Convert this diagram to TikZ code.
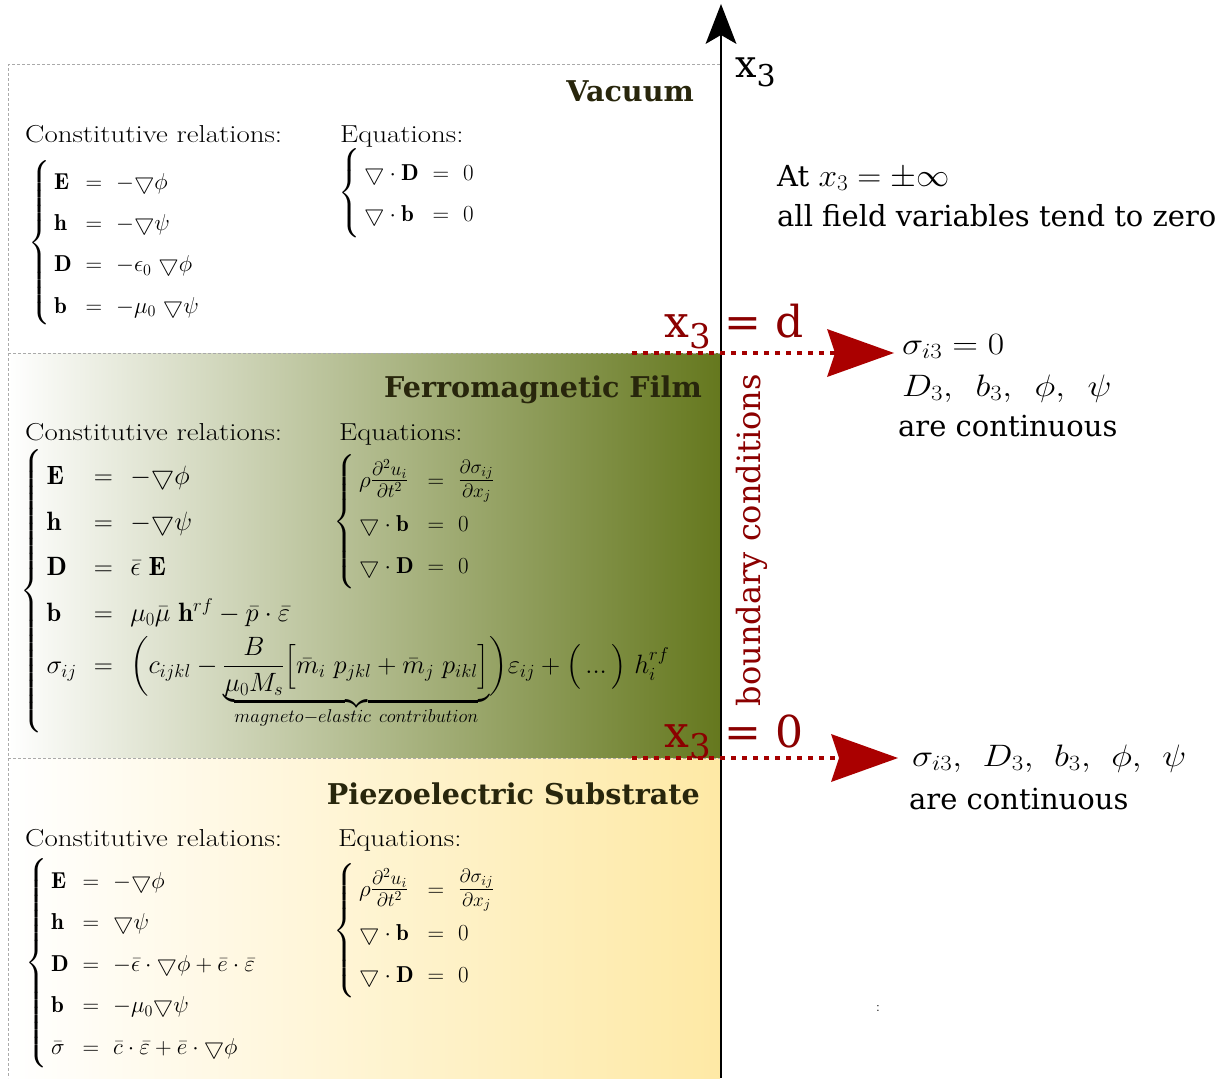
\RequirePackage{fix-cm}
\documentclass[tikz,border=0pt]{standalone}
\usepackage{amsmath}
\usepackage{graphicx}
\usepackage{fontspec}
\newfontfamily\dejavu{DejaVu Serif}
\usetikzlibrary{arrows.meta}
\definecolor{filmgreen}{RGB}{101,120,30}
\definecolor{subyellow}{RGB}{254,233,165}
\definecolor{titlec}{RGB}{40,38,12}
\definecolor{bcred}{RGB}{139,0,0}
\definecolor{dotred}{RGB}{165,0,0}
\definecolor{arrred}{RGB}{170,0,0}
\definecolor{bordergray}{RGB}{170,170,170}
\tikzset{
  border/.style={draw=bordergray, line width=1pt, dash pattern=on 3pt off 2pt},
  title/.style={anchor=base east, font=\dejavu\bfseries\fontsize{28.6}{32}\selectfont, text=titlec, inner sep=0pt},
  hdr/.style={anchor=base west, font=\fontsize{24.5}{30}\selectfont, inner sep=0pt},
  rtext/.style={anchor=base west, font=\dejavu\fontsize{29}{34}\selectfont, inner sep=0pt},
  rmath/.style={anchor=base west, font=\fontsize{31}{38}\selectfont, inner sep=0pt},
  eqsmall/.style={anchor=west, inner sep=0pt, font=\fontsize{23}{27.6}\selectfont},
  eqbig/.style={anchor=west, inner sep=0pt, font=\fontsize{26.5}{31.8}\selectfont},
  redlbl/.style={anchor=base west, font=\dejavu\fontsize{44}{50}\selectfont, text=bcred, inner sep=0pt},
  bcline/.style={dash pattern=on 5pt off 6pt, line width=4.5pt, draw=dotred,
     -{Stealth[length=67pt,width=48pt,inset=8pt,line width=0pt,color=arrred,fill=arrred]}},
  axisline/.style={line width=2.8pt, -{Stealth[length=40pt,width=31pt,inset=9pt,line width=0pt]}}
}
\newcommand{\nb}{\mathord{\bigtriangledown}}
\newcommand{\hx}[1]{\scalebox{1.18}[1]{#1}}
\newcommand{\mx}[1]{\scalebox{1.15}[1]{#1}}
\newcommand{\fr}[2]{\scalebox{1.2}{$\textstyle\frac{#1}{#2}$}}
\begin{document}
\begin{tikzpicture}[x=1pt,y=-1pt]
\useasboundingbox (0,0) rectangle (1230,1078);
% layers
\shade[left color=white, right color=filmgreen] (8,353) rectangle (720,758);
\shade[left color=white, right color=subyellow] (8,758) rectangle (720,1078);
\draw[border] (720,65) -- (8,65) -- (8,1078);
\draw[border] (8,353) -- (720,353);
\draw[border] (8,758) -- (720,758);

% titles
\node[title] (tvac) at (694,102) {Vacuum};
\node[title] (tfilm) at (702,397) {Ferromagnetic Film};
\node[title] (tsub) at (700,804) {Piezoelectric Substrate};

% headers
\node[hdr] (cv) at (25,143) {\hx{Constitutive relations:}};
\node[hdr] (ev) at (340,143) {\hx{Equations:}};
\node[hdr] (cf) at (25,440) {\hx{Constitutive relations:}};
\node[hdr] (ef) at (339,440) {\hx{Equations:}};
\node[hdr] (cs) at (25,846) {\hx{Constitutive relations:}};
\node[hdr] (es) at (338,846) {\hx{Equations:}};

% vacuum
\node[eqsmall] (vc) at (28,243) {\def\arraystretch{1.5}$\left\{\begin{array}{@{\,}l@{\ \ }c@{\ \ }l@{}}
\mathbf{E} & = & -\nb\phi\\
\mathbf{h} & = & -\nb\psi\\
\mathbf{D} & = & -\epsilon_0\ \nb\phi\\
\mathbf{b} & = & -\mu_0\ \nb\psi
\end{array}\right.$};
\node[eqsmall] (ve) at (338,193) {\def\arraystretch{1.5}$\left\{\begin{array}{@{\,}l@{\ \ }c@{\ \ }l@{}}
\nb\cdot\mathbf{D} & = & 0\\
\nb\cdot\mathbf{b} & = & 0
\end{array}\right.$};

% film
\node[eqbig] (fc) at (20,591) {\def\arraystretch{1.43}$\left\{\begin{array}{@{\,}l@{\hspace{0.65em}}c@{\hspace{0.65em}}l@{}}
\mathbf{E} & = & -\nb\phi\\
\mathbf{h} & = & -\nb\psi\\
\mathbf{D} & = & \bar\epsilon\ \mathbf{E}\\
\mathbf{b} & = & \mu_0\bar\mu\ \mathbf{h}^{rf}-\bar p\cdot\bar\varepsilon\\
\sigma_{ij} & = & \biggl(c_{ijkl}-\underbrace{\dfrac{B}{\mu_0M_s}\Bigl[\bar m_i\ p_{jkl}+\bar m_j\ p_{ikl}\Bigr]}_{magneto-elastic\ contribution}\biggr)\varepsilon_{ij}+\Bigl(\,...\,\Bigr)\ h_i^{rf}
\end{array}\right.$};
\node[eqsmall] (fe) at (333,522) {\def\arraystretch{1.5}$\left\{\begin{array}{@{\,}l@{\ \ }c@{\ \ }l@{}}
\rho\fr{\partial^2u_i}{\partial t^2} & = & \fr{\partial\sigma_{ij}}{\partial x_j}\\
\nb\cdot\mathbf{b} & = & 0\\
\nb\cdot\mathbf{D} & = & 0
\end{array}\right.$};

% substrate
\node[eqsmall] (sc) at (25,963) {\def\arraystretch{1.5}$\left\{\begin{array}{@{\,}l@{\ \ }c@{\ \ }l@{}}
\mathbf{E} & = & -\nb\phi\\
\mathbf{h} & = & \nb\psi\\
\mathbf{D} & = & -\bar\epsilon\cdot\nb\phi+\bar e\cdot\bar\varepsilon\\
\mathbf{b} & = & -\mu_0\nb\psi\\
\bar\sigma & = & \bar c\cdot\bar\varepsilon+\bar e\cdot\nb\phi
\end{array}\right.$};
\node[eqsmall] (se) at (333,931) {\def\arraystretch{1.5}$\left\{\begin{array}{@{\,}l@{\ \ }c@{\ \ }l@{}}
\rho\fr{\partial^2u_i}{\partial t^2} & = & \fr{\partial\sigma_{ij}}{\partial x_j}\\
\nb\cdot\mathbf{b} & = & 0\\
\nb\cdot\mathbf{D} & = & 0
\end{array}\right.$};

% axis
\coordinate (ax0) at (721,1078);
\coordinate (ax1) at (721,4);
\draw[axisline] (ax0) -- (ax1);
\node[anchor=base west, font=\dejavu\fontsize{38}{44}\selectfont, inner sep=0pt] (xl) at (735,78) {x\raisebox{-9pt}{\fontsize{30}{34}\selectfont 3}};

% right texts
\node[rtext] (at) at (777,186) {At {\fontsize{32}{36}\selectfont\scalebox{1.04}[1]{$x_3=\pm\infty$}}};
\node[rtext] (all) at (777,226) {all field variables tend to zero};

% boundary lines
\node[redlbl] (xd) at (664,337) {x\raisebox{-11pt}{\fontsize{34}{40}\selectfont 3} = d};
\node[redlbl] (x0) at (664,747) {x\raisebox{-11pt}{\fontsize{34}{40}\selectfont 3} = 0};
\coordinate (d0) at (632,353);
\coordinate (d1) at (894,353);
\coordinate (z0) at (632,758);
\coordinate (z1) at (898,758);
\draw[bcline] (d0) -- (d1);
\draw[bcline] (z0) -- (z1);
\node[rotate=90, font=\dejavu\fontsize{32}{38}\selectfont, text=bcred, inner sep=0pt] (bc) at (752,540) {boundary conditions};

\node[rmath] (s1) at (902,354) {\mx{$\sigma_{i3}=0$}};
\node[rmath] (s2) at (902,396) {\mx{$D_3,\,\ b_3,\,\ \phi,\,\ \psi$}};
\node[rtext] (s3) at (898,436) {are continuous};
\node[rmath] (t1) at (912,766) {\mx{$\sigma_{i3},\mkern2mu\ D_3,\mkern2mu\ b_3,\mkern2mu\ \phi,\mkern2mu\ \psi$}};
\node[rtext] (t2) at (909,809) {are continuous};
\node[anchor=base west, font=\fontsize{14}{16}\selectfont, inner sep=0pt] (colon) at (876,1011) {:};
\end{tikzpicture}
\end{document}
